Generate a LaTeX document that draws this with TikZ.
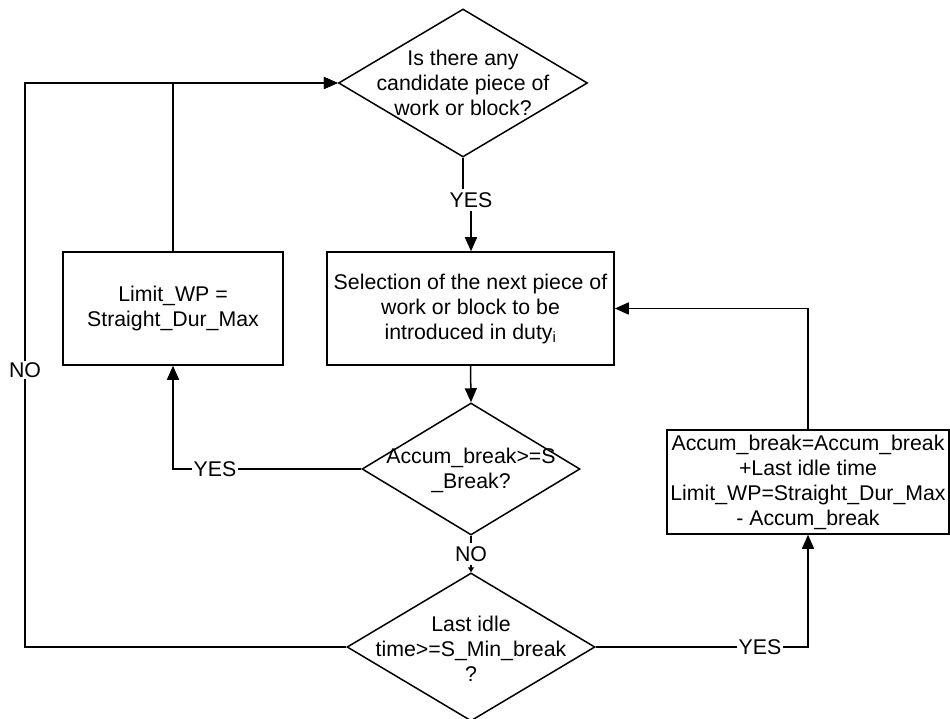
\documentclass[tikz,border=0pt]{standalone}
\usepackage{fontspec}
\setmainfont{Liberation Sans}
\usetikzlibrary{arrows.meta,shapes.geometric}
\begin{document}
\begin{tikzpicture}[x=1pt,y=-1pt,
  every node/.style={font=\fontsize{21.3}{25}\selectfont},
  flow/.style={line width=1.5pt},
  arr/.style={flow,-{Triangle[length=14pt,width=12pt]}},
  tinyarr/.style={flow,-{Triangle[length=5pt,width=6pt]}},
  box/.style={draw,line width=1.5pt,align=center,inner sep=0pt},
  dec/.style={draw,diamond,line width=1.5pt,inner sep=0pt},
  txt/.style={align=center,inner sep=0pt},
  tag/.style={inner sep=3pt}]
\useasboundingbox (0,0) rectangle (950,719);

% decisions (shape and text kept apart so the text may overhang the outline)
\node[dec,minimum width=249pt,minimum height=148pt] (d1) at (463,83) {};
\node[txt] (d1t) at (d1.center) {Is there any\\candidate piece of\\work or block?};

\node[dec,minimum width=218pt,minimum height=132pt] (d2) at (471,469) {};
\node[txt] (d2t) at (471,470) {Accum\_break>=S\\\_Break?};

\node[dec,minimum width=248pt,minimum height=148pt] (d3) at (471,647) {};
\node[txt] (d3t) at (471,649) {Last idle\\time>=S\_Min\_break\\?};

% process boxes
\node[box,minimum width=287pt,minimum height=113pt] (sel) at (470.5,308.5)
  {Selection of the next piece of\\work or block to be\\introduced in duty\textsubscript{i}};
\node[box,minimum width=220pt,minimum height=113pt] (lim) at (173,308.5)
  {Limit\_WP =\\Straight\_Dur\_Max};
\node[box,minimum width=282pt,minimum height=104pt] (acc) at (808,482)
  {Accum\_break=Accum\_break\\+Last idle time\\Limit\_WP=Straight\_Dur\_Max\\- Accum\_break};

% branch labels
\node[tag] (yes1) at (471,200) {YES};
\node[tag] (no1)  at (471,554) {NO};
\node[tag,inner sep=1.5pt] (yes2) at (215,469) {YES};
\node[tag,inner sep=1.5pt] (yes3) at (760,647) {YES};
\node[tag,inner sep=1.5pt] (no2)  at (25,370) {NO};

% connectors
\draw[flow] (d1.south) -- (d1.south |- yes1.north);
\draw[arr] (yes1.south) -- (yes1.south |- sel.north);
\draw[arr] (sel.south) -- (d2.north);
\draw[flow] (d2.south) -- (no1.north);
\draw[tinyarr] (no1.south) -- (d3.north);

\draw[flow] (d2.west) -- (yes2.east);
\draw[arr] (yes2.west) -| (lim.south);
\draw[arr] (lim.north) |- (d1.west);

\draw[flow] (d3.west) -| (no2.south);
\draw[arr] (no2.north) |- (d1.west);

\draw[flow] (d3.east) -- (yes3.west);
\draw[arr] (yes3.east) -| (acc.south);
\draw[arr] (acc.north) |- (sel.east);
\end{tikzpicture}
\end{document}
